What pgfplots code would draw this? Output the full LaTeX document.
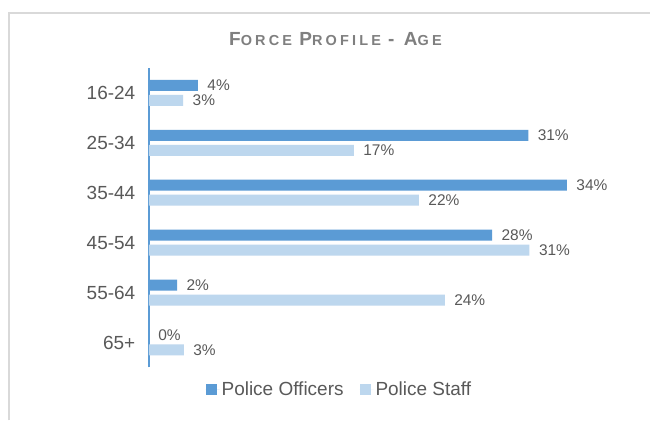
\documentclass[border=0pt]{standalone}
\usepackage{fontspec}
\setmainfont{Liberation Sans}
\newfontfamily\titlefont[LetterSpace=22]{Liberation Sans}
\usepackage{pgfplots}
\pgfplotsset{compat=1.18}
\definecolor{offc}{HTML}{5B9BD5}
\definecolor{staffc}{HTML}{BDD7EE}
\definecolor{txt}{HTML}{595959}
\definecolor{ttl}{HTML}{7F7F7F}
\definecolor{frame}{HTML}{D9D9D9}
\begin{document}
\begin{tikzpicture}
\path[fill=white] (0pt,0pt) rectangle (651pt,421pt);
\draw[frame,line width=2pt] (9pt,0pt) -- (9pt,408pt) -- (651pt,408pt);
\node[ttl,font=\titlefont\bfseries] at (336pt,382pt)
  {\fontsize{19}{19}\selectfont F\fontsize{14.5}{14}\selectfont ORCE \fontsize{19}{19}\selectfont P\fontsize{14.5}{14}\selectfont ROFILE \fontsize{19}{19}\selectfont - A\fontsize{14.5}{14}\selectfont GE};
\begin{axis}[
  at={(149pt,53pt)}, anchor=south west,
  scale only axis, width=492pt, height=300pt,
  xbar, bar width=11pt,
  xmin=0, xmax=40, ymin=-0.5, ymax=5.5,
  axis y line*=left, axis x line=none,
  y axis line style={offc, line width=2pt, -},
  ytick={0,1,2,3,4,5},
  yticklabels={65+,55-64,45-54,35-44,25-34,16-24},
  major tick length=0pt,
  yticklabel style={font=\fontsize{19}{19}\selectfont, text=txt, xshift=-10pt},
  nodes near coords={\pgfmathprintnumber[fixed,precision=0]{\pgfplotspointmeta}\%},
  /pgf/number format/assume math mode=true,
  point meta=x,
  every node near coord/.append style={font=\fontsize{15.5}{15}\selectfont, text=txt, anchor=west, xshift=6pt},
  legend columns=2,
  legend style={at={(0.388,-0.073)}, anchor=center, draw=none, fill=none,
    font=\fontsize{19}{19}\selectfont, text=txt,
    /tikz/every even column/.append style={column sep=14pt},
    inner sep=0pt},
  legend image code/.code={\fill[#1] (0pt,-5.5pt) rectangle (11pt,5.5pt); \path (0pt,0pt) -- (14pt,0pt);},
  clip=false,
]
\addplot[fill=offc, draw=none, bar shift=7.5pt] coordinates {
  (4.0,5) (30.9,4) (34.05,3) (27.95,2) (2.3,1) (0,0)
};
\addlegendentry{Police Officers}
\addplot[fill=staffc, draw=none, bar shift=-7.5pt] coordinates {
  (2.8,5) (16.7,4) (22.0,3) (31.0,2) (24.1,1) (2.85,0)
};
\addlegendentry{Police Staff}
\end{axis}
\end{tikzpicture}
\end{document}
